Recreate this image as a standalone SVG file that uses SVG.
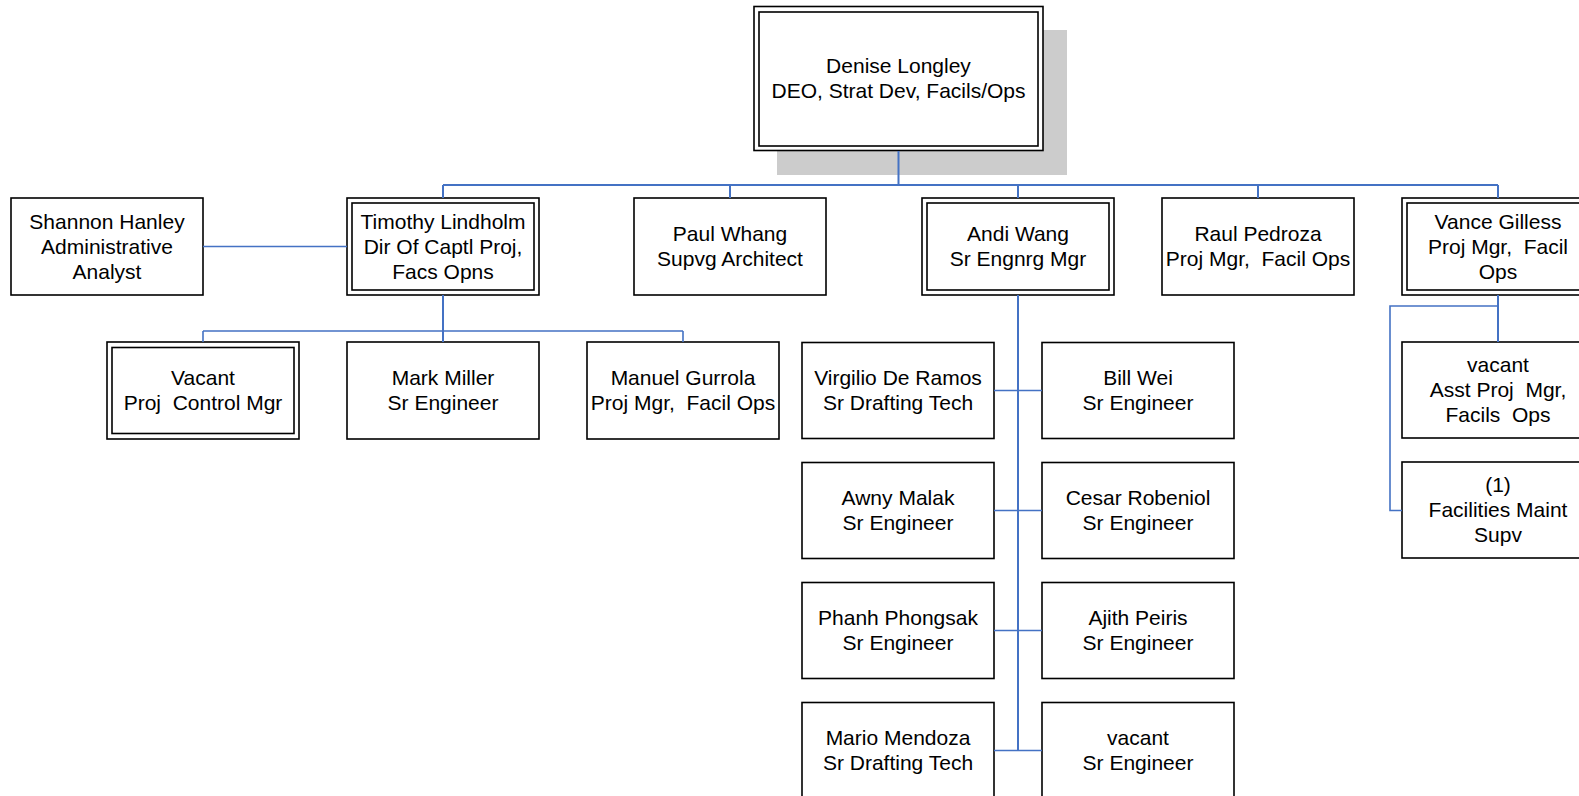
<svg xmlns="http://www.w3.org/2000/svg" width="1579" height="796" viewBox="0 0 1579 796">
<style>
.bx{fill:#fff;stroke:#000;stroke-width:1.6}
.in{fill:none;stroke:#000;stroke-width:1.6}
.sh{fill:#cccccc}
text{font-family:"Liberation Sans",Arial,sans-serif;font-size:21px;fill:#000;text-anchor:middle;white-space:pre}
.c{fill:none;stroke:#4472C4;stroke-width:2}
.h{fill:none;stroke:#4472C4;stroke-width:1.6}
</style>
<rect width="1579" height="796" fill="#fff"/>
<g id="n-longley">
<rect class="sh" x="777" y="30" width="290" height="145"/>
<rect class="bx" x="754" y="6.5" width="289" height="144"/>
<rect class="in" x="759" y="12" width="279" height="134"/>
<text x="898.5" y="72.5">Denise Longley</text>
<text x="898.5" y="97.5">DEO, Strat Dev, Facils/Ops</text>
</g>
<g id="n-hanley">
<rect class="bx" x="11" y="198" width="192" height="97"/>
<text x="107" y="228.5">Shannon Hanley</text>
<text x="107" y="253.5">Administrative</text>
<text x="107" y="278.5">Analyst</text>
</g>
<g id="n-lindholm">
<rect class="bx" x="347" y="198" width="192" height="97"/>
<rect class="in" x="352" y="203" width="182" height="87"/>
<text x="443" y="228.5">Timothy Lindholm</text>
<text x="443" y="253.5">Dir Of Captl Proj,</text>
<text x="443" y="278.5">Facs Opns</text>
</g>
<g id="n-whang">
<rect class="bx" x="634" y="198" width="192" height="97"/>
<text x="730" y="240.5">Paul Whang</text>
<text x="730" y="265.5">Supvg Architect</text>
</g>
<g id="n-wang">
<rect class="bx" x="922" y="198" width="192" height="97"/>
<rect class="in" x="927" y="203" width="182" height="87"/>
<text x="1018" y="240.5">Andi Wang</text>
<text x="1018" y="265.5">Sr Engnrg Mgr</text>
</g>
<g id="n-pedroza">
<rect class="bx" x="1162" y="198" width="192" height="97"/>
<text x="1258" y="240.5">Raul Pedroza</text>
<text x="1258" y="265.5">Proj Mgr,  Facil Ops</text>
</g>
<g id="n-gilless">
<rect class="bx" x="1402" y="198" width="192" height="97"/>
<rect class="in" x="1407" y="203" width="182" height="87"/>
<text x="1498" y="228.5">Vance Gilless</text>
<text x="1498" y="253.5">Proj Mgr,  Facil</text>
<text x="1498" y="278.5">Ops</text>
</g>
<g id="n-vacant-pcm">
<rect class="bx" x="107" y="342" width="192" height="97"/>
<rect class="in" x="112" y="347.5" width="182" height="86"/>
<text x="203" y="384.5">Vacant</text>
<text x="203" y="409.5">Proj  Control Mgr</text>
</g>
<g id="n-miller">
<rect class="bx" x="347" y="342" width="192" height="97"/>
<text x="443" y="384.5">Mark Miller</text>
<text x="443" y="409.5">Sr Engineer</text>
</g>
<g id="n-gurrola">
<rect class="bx" x="587" y="342" width="192" height="97"/>
<text x="683" y="384.5">Manuel Gurrola</text>
<text x="683" y="409.5">Proj Mgr,  Facil Ops</text>
</g>
<g id="n-deramos">
<rect class="bx" x="802" y="342.5" width="192" height="96"/>
<text x="898" y="384.5">Virgilio De Ramos</text>
<text x="898" y="409.5">Sr Drafting Tech</text>
</g>
<g id="n-wei">
<rect class="bx" x="1042" y="342.5" width="192" height="96"/>
<text x="1138" y="384.5">Bill Wei</text>
<text x="1138" y="409.5">Sr Engineer</text>
</g>
<g id="n-malak">
<rect class="bx" x="802" y="462.5" width="192" height="96"/>
<text x="898" y="504.5">Awny Malak</text>
<text x="898" y="529.5">Sr Engineer</text>
</g>
<g id="n-robeniol">
<rect class="bx" x="1042" y="462.5" width="192" height="96"/>
<text x="1138" y="504.5">Cesar Robeniol</text>
<text x="1138" y="529.5">Sr Engineer</text>
</g>
<g id="n-phongsak">
<rect class="bx" x="802" y="582.5" width="192" height="96"/>
<text x="898" y="624.5">Phanh Phongsak</text>
<text x="898" y="649.5">Sr Engineer</text>
</g>
<g id="n-peiris">
<rect class="bx" x="1042" y="582.5" width="192" height="96"/>
<text x="1138" y="624.5">Ajith Peiris</text>
<text x="1138" y="649.5">Sr Engineer</text>
</g>
<g id="n-mendoza">
<rect class="bx" x="802" y="702.5" width="192" height="96"/>
<text x="898" y="744.5">Mario Mendoza</text>
<text x="898" y="769.5">Sr Drafting Tech</text>
</g>
<g id="n-vacant-se">
<rect class="bx" x="1042" y="702.5" width="192" height="96"/>
<text x="1138" y="744.5">vacant</text>
<text x="1138" y="769.5">Sr Engineer</text>
</g>
<g id="n-vacant-apm">
<rect class="bx" x="1402" y="342" width="192" height="96"/>
<text x="1498" y="372">vacant</text>
<text x="1498" y="397">Asst Proj  Mgr,</text>
<text x="1498" y="422">Facils  Ops</text>
</g>
<g id="n-fms">
<rect class="bx" x="1402" y="462" width="192" height="96"/>
<text x="1498" y="492">(1)</text>
<text x="1498" y="517">Facilities Maint</text>
<text x="1498" y="542">Supv</text>
</g>
<g id="connectors">
<path class="c" d="M898.5 151V185M443 185H1498M443 185V198M730 185V198M1018 185V198M1258 185V198M1498 185V198"/>
<path class="h" d="M203 246.5H347"/>
<path class="c" d="M443 295V342"/>
<path class="h" d="M203 331H683M203 331V342M683 331V342"/>
<path class="c" d="M1018 295V750.5"/>
<path class="h" d="M994 390.5H1042M994 510.5H1042M994 630.5H1042M994 750.5H1042"/>
<path class="c" d="M1498 295V342"/>
<path class="h" d="M1498 306H1390V510.5H1402"/>
</g>
</svg>
